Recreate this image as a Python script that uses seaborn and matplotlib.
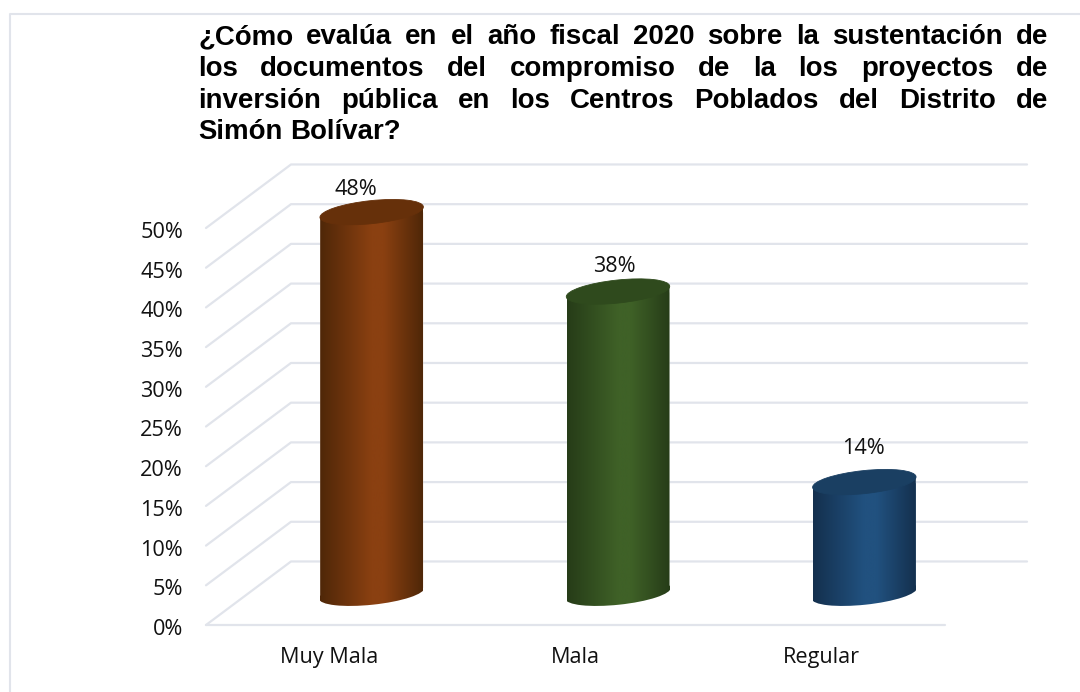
import numpy as np
import pandas as pd
import seaborn as sns
import matplotlib.pyplot as plt
from matplotlib.colors import LinearSegmentedColormap
from matplotlib.patches import Ellipse, Polygon
from matplotlib.transforms import Affine2D

categories = ["Muy Mala", "Mala", "Regular"]
values = [48, 38, 14]
value_labels = ["48%", "38%", "14%"]
y_ticks = [0, 5, 10, 15, 20, 25, 30, 35, 40, 45, 50]
y_tick_labels = ["0%", "5%", "10%", "15%", "20%", "25%", "30%", "35%", "40%", "45%", "50%"]
title_lines = [
    "¿Cómo evalúa en el año fiscal 2020 sobre la sustentación de",
    "los documentos del compromiso de la los proyectos de",
    "inversión pública en los Centros Poblados del Distrito de",
    "Simón Bolívar?",
]

mid_colors = ["#8a4011", "#3f6127", "#21517f"]
edge_colors = ["#4f2708", "#263c18", "#14304e"]
top_colors = ["#66300a", "#2f4a1d", "#1a3f62"]
GRID = "#e1e4eb"
W, H = 1080, 692

sns.set_theme(style="white")
plt.rcParams["font.family"] = ["Open Sans", "DejaVu Sans"]

fig = plt.figure(figsize=(W / 100, H / 100), dpi=100)
ax = fig.add_axes([206 / W, (H - 625) / H, 739 / W, 397 / H])

df = pd.DataFrame({"cat": categories, "val": values})
sns.barplot(data=df, x="cat", y="val", hue="cat", palette=mid_colors, legend=False,
            width=0.418, saturation=1, ax=ax)
ax.set_xlim(-0.5, 2.5)
ax.set_ylim(0, 50)
bars = list(ax.patches)[:3]

# 3d depth of the fake box, in data units
depth_x, depth_y = 0.345, 8.0
for t in y_ticks:
    ax.plot([-0.5, -0.5 + depth_x, 2.5 + depth_x - 0.012], [t, t + depth_y, t + depth_y],
            color=GRID, lw=1.6, zorder=0.5, clip_on=False)
ax.plot([-0.5, 2.5], [0, 0], color=GRID, lw=1.6, zorder=0.5, clip_on=False)

# bars stand in the middle of the floor
shift = Affine2D().translate(depth_x / 2, depth_y / 2) + ax.transData
tilt_deg = 6
tilt_data = 5.4 / 7.94
n = 256
for i, bar in enumerate(bars):
    x0, w, v = bar.get_x(), bar.get_width(), bar.get_height()
    bar.set_transform(shift)
    cmap = LinearSegmentedColormap.from_list(
        f"cyl{i}", [(0, edge_colors[i]), (0.5, mid_colors[i]), (0.62, mid_colors[i]), (1, edge_colors[i])])
    shade = np.linspace(0, 1, n).reshape(1, -1)

    body = Polygon([(x0, v - tilt_data), (x0 + w, v + tilt_data), (x0 + w, tilt_data), (x0, -tilt_data)],
                   closed=True, transform=shift, fc="none", ec="none")
    ax.add_patch(body)
    bar.set_clip_box(fig.bbox)
    bar.set_clip_path(body)

    im = ax.imshow(shade, cmap=cmap, aspect="auto", extent=(x0, x0 + w, -3, v + 3), zorder=3)
    im.set_transform(shift)
    im.set_clip_box(fig.bbox)
    im.set_clip_path(body)

    cx, cy0 = shift.transform((x0 + w / 2, 0))
    cy1 = shift.transform((x0 + w / 2, v))[1]
    width_px = shift.transform((x0 + w, 0))[0] - shift.transform((x0, 0))[0]

    # the image extent trims the side tips of this slightly wider ellipse
    bottom = Ellipse((0, 0), width_px + 3, 23, fc="none", ec="none",
                     transform=Affine2D().rotate_deg(tilt_deg).translate(cx, cy0))
    ax.add_patch(bottom)
    im2 = ax.imshow(shade, cmap=cmap, aspect="auto", extent=(x0, x0 + w, -3, v + 3), zorder=2.9)
    im2.set_transform(shift)
    im2.set_clip_box(fig.bbox)
    im2.set_clip_path(bottom)

    ax.add_patch(Ellipse((0, 0), width_px + 1, 23, fc=top_colors[i], ec=top_colors[i], lw=0.6, zorder=4,
                         clip_on=False,
                         transform=Affine2D().rotate_deg(tilt_deg).translate(cx, cy1)))

ax.set_xlim(-0.5, 2.5)
ax.set_ylim(0, 50)

# data labels sit above the top ellipse
label_dx = [-16, -4, -1]
label_dy = [23, 25, 34]
for i, bar in enumerate(bars):
    cx = bar.get_x() + bar.get_width() / 2
    ax.annotate(value_labels[i], (cx, values[i]), xycoords=shift,
                xytext=(label_dx[i] * 0.72, label_dy[i] * 0.72),
                textcoords="offset points", ha="center", va="center", fontsize=15.6,
                color="#111111", zorder=6, annotation_clip=False)

ax.set_yticks(y_ticks)
ax.set_yticklabels(y_tick_labels, fontsize=15.6, color="#111111")
ax.set_xticks(range(3))
ax.set_xticklabels(categories, fontsize=15.6, color="#111111")
ax.tick_params(axis="y", length=0, pad=16.5)
ax.tick_params(axis="x", length=0, pad=16)
for lab in ax.get_yticklabels():
    lab.set_transform(lab.get_transform() + Affine2D().translate(0, -2))
ax.set_xlabel("")
ax.set_ylabel("")
sns.despine(ax=ax, left=True, bottom=True)
ax.patch.set_alpha(0)

# outer frame: only top and left show up
fig.add_artist(plt.Line2D([10 / W, 10 / W, 1], [0, 1 - 14 / H, 1 - 14 / H], color=GRID, lw=1.5))

# justified title, word by word
renderer = fig.canvas.get_renderer()
left, right = 198, 1048
base = 44
for k, line in enumerate(title_lines):
    words = line.split(" ")
    y = 1 - (base + 31.8 * k) / H
    items = [fig.text(left / W, y, wd, fontsize=19.9, fontweight="bold", family="Liberation Sans",
                      color="black", va="baseline") for wd in words]
    widths = [t.get_window_extent(renderer).width for t in items]
    if k < len(title_lines) - 1:
        gap = (right - left - sum(widths)) / (len(words) - 1)
    else:
        gap = 7.7
    pos = left
    for t, wid in zip(items, widths):
        t.set_x(pos / W)
        pos += wid + gap

fig.savefig("out.png", dpi=100)
